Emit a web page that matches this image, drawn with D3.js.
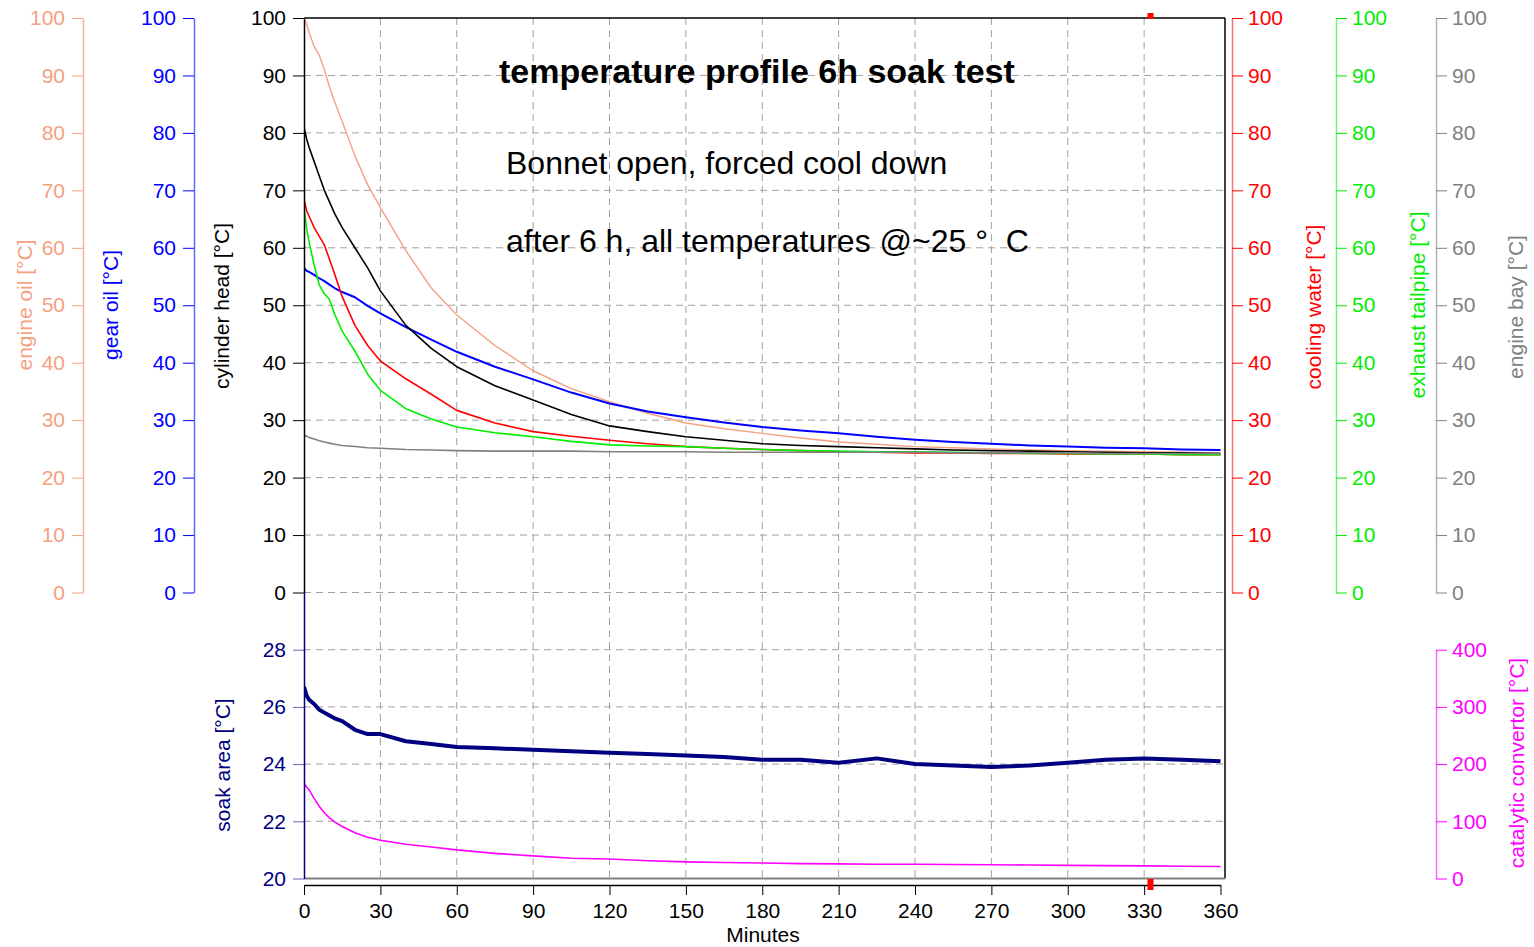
<!DOCTYPE html>
<html>
<head>
<meta charset="utf-8">
<script src="https://cdn.jsdelivr.net/npm/d3@7"></script>
<style>
  body { margin: 0; background: #fff; }
  svg { font-family: "Liberation Sans", Arial, sans-serif; }
</style>
</head>
<body>
<div id="chart"></div>
<script>
// time base (minutes) shared by all channels
var minutes = [0, 1, 2, 4, 6, 8, 10, 12, 15, 20, 25, 30, 40, 50, 60, 75, 90, 105, 120, 135, 150,
  165, 180, 195, 210, 225, 240, 255, 270, 285, 300, 315, 330, 345, 360];

// upper panel channels, °C
var engineOil = [100, 99, 97.5, 95, 93.5, 91, 88, 85.5, 82, 76, 71, 67, 59.5, 53, 48.3, 43, 38.6, 35.5, 33.2, 31.2, 29.5,
  28.5, 27.7, 26.9, 26.2, 25.8, 25.4, 25.2, 25, 24.8, 24.7, 24.6, 24.5, 24.4, 24.3];
var gearOil = [56.5, 56, 55.8, 55.3, 54.7, 54.2, 53.6, 53, 52.3, 51.4, 49.9, 48.6, 46.2, 44, 41.9, 39.3, 37.1, 34.8, 32.9, 31.5, 30.5,
  29.6, 28.8, 28.2, 27.7, 27.1, 26.6, 26.2, 25.9, 25.6, 25.4, 25.2, 25.1, 24.9, 24.8];
var cylinderHead = [81, 79, 77.5, 75, 72.5, 70, 68, 66, 63.5, 60, 56.5, 52.5, 46.5, 42.5, 39.3, 36, 33.5, 31, 29, 28, 27.1,
  26.5, 25.9, 25.6, 25.4, 25.2, 25, 24.8, 24.7, 24.6, 24.5, 24.4, 24.3, 24.3, 24.2];
var coolingWater = [68.5, 66.5, 65.5, 63.5, 62, 60.5, 58, 55.5, 51.5, 46.5, 43, 40.3, 37.2, 34.5, 31.7, 29.5, 28, 27.2, 26.5, 25.9, 25.4,
  25.1, 24.9, 24.7, 24.5, 24.4, 24.3, 24.3, 24.2, 24.2, 24.1, 24.1, 24.1, 24, 24];
var exhaustTailpipe = [67, 63.5, 61, 57, 53.5, 52, 51, 48.5, 45.5, 42, 38, 35.2, 32, 30.2, 28.8, 27.8, 27.1, 26.3, 25.7, 25.5, 25.4,
  25.1, 24.9, 24.7, 24.6, 24.5, 24.5, 24.4, 24.3, 24.2, 24.2, 24.1, 24.1, 24, 24];
var engineBay = [27.5, 27.2, 27, 26.7, 26.4, 26.2, 26, 25.8, 25.6, 25.4, 25.2, 25.1, 24.9, 24.8, 24.7, 24.6, 24.6, 24.6, 24.5, 24.5, 24.5,
  24.4, 24.4, 24.4, 24.4, 24.4, 24.4, 24.3, 24.3, 24.3, 24.3, 24.2, 24.2, 24.2, 24.2];

// lower panel channels
var soakArea = [26.7, 26.4, 26.25, 26.1, 25.9, 25.8, 25.7, 25.6, 25.5, 25.2, 25.05, 25.05, 24.8, 24.7, 24.6, 24.55, 24.5, 24.45, 24.4, 24.35, 24.3,
  24.25, 24.15, 24.15, 24.05, 24.2, 24.0, 23.95, 23.9, 23.95, 24.05, 24.15, 24.2, 24.15, 24.1];
var catalytic = [167, 160, 155, 140, 126, 115, 106, 99, 91, 80, 72, 67, 60, 55, 50, 44, 39.5, 35.5, 34, 31, 29,
  28, 27, 26, 25.5, 25, 25, 24.5, 24, 23.6, 23, 22.5, 22, 21.5, 21];

// tick labels
var xTicks = [0, 30, 60, 90, 120, 150, 180, 210, 240, 270, 300, 330, 360];
var tempTicks = [0, 10, 20, 30, 40, 50, 60, 70, 80, 90, 100];
var soakTicks = [20, 22, 24, 26, 28];
var catTicks = [0, 100, 200, 300, 400];
var cursorMinute = 332.5;

var W = 1534, H = 947;
var plotLeft = 304, plotRight = 1225, plotTop = 18, plotMid = 592.5, plotBottom = 878.5;

var svg = d3.select('#chart').append('svg').attr('width', W).attr('height', H);

var x = d3.scaleLinear().domain([0, 360]).range([plotLeft, 1220.5]);
var yTemp = d3.scaleLinear().domain([0, 100]).range([plotMid, plotTop]);
var ySoak = d3.scaleLinear().domain([20, 30]).range([plotBottom, plotMid]);
var yCat = d3.scaleLinear().domain([0, 400]).range([plotBottom, ySoak(28)]);

// grid
var grid = svg.append('g').attr('stroke', '#a0a0a0').attr('stroke-width', 1).attr('stroke-dasharray', '7,5');
tempTicks.slice(0, 10).forEach(function (v) {
  grid.append('line').attr('x1', plotLeft).attr('x2', plotRight).attr('y1', yTemp(v)).attr('y2', yTemp(v));
});
soakTicks.slice(1).forEach(function (v) {
  grid.append('line').attr('x1', plotLeft).attr('x2', plotRight).attr('y1', ySoak(v)).attr('y2', ySoak(v));
});
xTicks.slice(1, 12).forEach(function (v) {
  grid.append('line').attr('x1', x(v)).attr('x2', x(v)).attr('y1', plotTop).attr('y2', plotBottom);
});

// frame
svg.append('line').attr('x1', plotLeft).attr('x2', plotRight).attr('y1', plotTop).attr('y2', plotTop).attr('stroke', '#000').attr('stroke-width', 1.5);
svg.append('line').attr('x1', plotRight).attr('x2', plotRight).attr('y1', plotTop).attr('y2', plotBottom).attr('stroke', '#000').attr('stroke-width', 1.5);

// clip for the traces
svg.append('clipPath').attr('id', 'plot').append('rect')
  .attr('x', plotLeft).attr('y', plotTop).attr('width', plotRight - plotLeft).attr('height', plotBottom - plotTop);

var traces = svg.append('g').attr('clip-path', 'url(#plot)').attr('fill', 'none');

function trace(values, scale, color, width) {
  var line = d3.line()
    .x(function (d, i) { return x(minutes[i]); })
    .y(function (d) { return scale(d); });
  traces.append('path').datum(values)
    .attr('d', line)
    .attr('stroke', color)
    .attr('stroke-width', width)
    .attr('stroke-linejoin', 'round');
}

trace(catalytic, yCat, '#ff00ff', 1.6);
trace(soakArea, ySoak, '#000080', 4);
trace(engineOil, yTemp, '#f5a081', 1.4);
trace(gearOil, yTemp, '#0000ff', 2);
trace(cylinderHead, yTemp, '#000000', 1.6);
trace(coolingWater, yTemp, '#ff0000', 1.6);
trace(exhaustTailpipe, yTemp, '#00ee00', 1.6);
trace(engineBay, yTemp, '#808080', 1.6);

// bottom of frame
svg.append('line').attr('x1', plotLeft).attr('x2', plotRight).attr('y1', plotBottom).attr('y2', plotBottom).attr('stroke', '#808080').attr('stroke-width', 2);

// y axes
function yAxis(gen, xPos, scale, ticks, color, domainOpacity) {
  var g = svg.append('g').attr('transform', 'translate(' + xPos + ',0)')
    .call(gen(scale).tickValues(ticks).tickSize(11).tickSizeOuter(0).tickPadding(7));
  g.selectAll('text').attr('fill', color).style('font-size', '21px').style('font-family', '"Liberation Sans", Arial, sans-serif');
  g.selectAll('.tick line').attr('stroke', color);
  g.select('.domain').attr('stroke', color).attr('stroke-opacity', domainOpacity).attr('stroke-width', 1.5);
  return g;
}

yAxis(d3.axisLeft, 83, yTemp, tempTicks, '#f5a081', 0.8);
yAxis(d3.axisLeft, 194, yTemp, tempTicks, '#0000ff', 0.6);
yAxis(d3.axisLeft, plotLeft, yTemp, tempTicks, '#000000', 1);
var soakG = yAxis(d3.axisLeft, plotLeft, ySoak, soakTicks, '#000080', 1);
soakG.selectAll('.tick line').attr('stroke-opacity', 0.6);
yAxis(d3.axisRight, 1232, yTemp, tempTicks, '#ff0000', 0.55).selectAll('text').attr('x', 16);
yAxis(d3.axisRight, 1336, yTemp, tempTicks, '#00ee00', 0.55).selectAll('text').attr('x', 16);
yAxis(d3.axisRight, 1436, yTemp, tempTicks, '#808080', 0.6).selectAll('text').attr('x', 16);
yAxis(d3.axisRight, 1436, yCat, catTicks, '#ff00ff', 0.6).selectAll('text').attr('x', 16);

// x axis
var xg = svg.append('g').attr('transform', 'translate(0,885)')
  .call(d3.axisBottom(x).tickValues(xTicks).tickSize(10).tickSizeOuter(0).tickPadding(8));
xg.selectAll('text').attr('fill', '#000').style('font-size', '21px').style('font-family', '"Liberation Sans", Arial, sans-serif');
xg.select('.domain').attr('stroke-width', 1.5);

svg.append('text').attr('x', 763).attr('y', 942).attr('text-anchor', 'middle')
  .style('font-size', '21px').text('Minutes');

// axis titles
var titles = [
  { text: 'engine oil [°C]', x: 32, y: 305, color: '#f5a081' },
  { text: 'gear oil [°C]', x: 118, y: 305, color: '#0000ff' },
  { text: 'cylinder head [°C]', x: 229, y: 306, color: '#000000' },
  { text: 'soak area [°C]', x: 230, y: 765, color: '#000080' },
  { text: 'cooling water [°C]', x: 1321, y: 307, color: '#ff0000' },
  { text: 'exhaust tailpipe [°C]', x: 1425, y: 305, color: '#00ee00' },
  { text: 'engine bay [°C]', x: 1523, y: 307, color: '#808080' },
  { text: 'catalytic convertor [°C]', x: 1524, y: 763, color: '#ff00ff' }
];
titles.forEach(function (t) {
  svg.append('text')
    .attr('transform', 'translate(' + t.x + ',' + t.y + ') rotate(-90)')
    .attr('text-anchor', 'middle')
    .attr('fill', t.color)
    .style('font-size', '21px')
    .text(t.text);
});

// annotations
svg.append('text').attr('x', 499).attr('y', 83).style('font-size', '34px').style('font-weight', 'bold')
  .text('temperature profile 6h soak test');
svg.append('text').attr('x', 506).attr('y', 174).style('font-size', '32px')
  .text('Bonnet open, forced cool down');
svg.append('text').attr('x', 506).attr('y', 252).style('font-size', '32px').attr('xml:space', 'preserve')
  .text('after 6 h, all temperatures @~25 °  C');

// cursor markers
svg.append('rect').attr('x', x(cursorMinute) - 3).attr('y', 13).attr('width', 6).attr('height', 6).attr('fill', '#ff0000');
svg.append('rect').attr('x', x(cursorMinute) - 3).attr('y', 879).attr('width', 6).attr('height', 11).attr('fill', '#ff0000');
</script>
</body>
</html>
